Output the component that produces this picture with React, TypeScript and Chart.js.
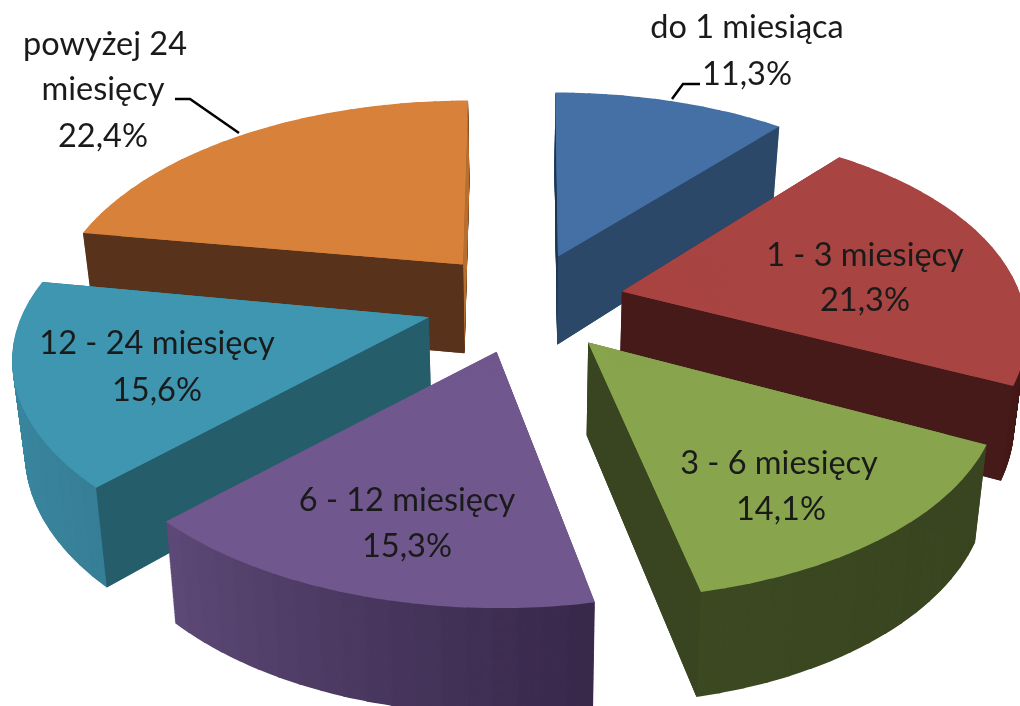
import React, { useEffect, useRef } from "react";
import { Chart, registerables } from "chart.js";

Chart.register(...registerables);

// ---- data -------------------------------------------------------------
const categories = [
  "do 1 miesiąca",
  "1 - 3 miesięcy",
  "3 - 6 miesięcy",
  "6 - 12 miesięcy",
  "12 - 24 miesięcy",
  "powyżej 24 miesięcy",
];
const shares = [11.3, 21.3, 14.1, 15.3, 15.6, 22.4];

// ---- styles -----------------------------------------------------------
const topColors = ["#4470a5", "#a84442", "#88a44d", "#70578d", "#3f96b0", "#d8813a"];
const wallFrom = ["#2b4868", "#451a18", "#394420", "#38284a", "#367f97", "#58321a"];
const wallTo = ["#2b4868", "#451a18", "#3c4a22", "#5e4a78", "#3f8fa9", "#58321a"];
const faceStart = ["#1d3550", "#451a18", "#394420", null, "#265d6b", "#58321a"];
const faceEnd = ["#2b4868", "#451a18", "#394420", null, "#265d6b", "#b86e2e"];
// per-slice small corrections of the projected rim
const sliceSkew = [0.45, 0, 0.45, 0.45, 0, 0.45];
const sliceRot = [0, -0.02, 0, 0.012, 0.01, 0];
const sliceXScale = [1, 0.985, 1, 1, 1.015, 1];
const labelLines = [
  ["do 1 miesiąca", "11,3%"],
  ["1 - 3 miesięcy", "21,3%"],
  ["3 - 6 miesięcy", "14,1%"],
  ["6 - 12 miesięcy", "15,3%"],
  ["12 - 24 miesięcy", "15,6%"],
  ["powyżej 24", "miesięcy", "22,4%"],
];
const labelCenters = [
  [[747, 28], [747, 75]],
  [[865, 256], [865, 301]],
  [[779, 464], [781, 510]],
  [[407, 501], [407, 547]],
  [[157, 344], [157, 391]],
  [[105, 45], [103, 90], [103, 137]],
];
const leaderLines = [
  [[672, 99], [683, 84], [700, 84]],
  [[175, 99], [190, 99], [239, 133]],
];
const FONT = '32.5px Lato, "Open Sans", sans-serif';

// ---- camera: a tilted plane seen in perspective ------------------------
const CX = 525;
const CY = 301;
const A = 400;
const B = 200;
const K = 0.22;

type Pt = { x: number; y: number };

const persp = (u: number, z: number) => {
  const w = 1 / (1 - K * z);
  return { x: A * u * w, y: B * z * w, w };
};
const lower = (p: Pt, t: number): Pt => ({
  x: p.x - (p.x - CX) * 0.025 * t,
  y: p.y + (75.5 + 0.05 * p.y) * t,
});
const apexOf = (offsetShare: number, mid: number): Pt => {
  const p = persp(offsetShare * Math.cos(mid), offsetShare * Math.sin(mid));
  return { x: CX + p.x, y: CY + p.y };
};
const rimOf = (apex: Pt, angle: number, i: number): Pt => {
  const q = persp(Math.cos(angle), Math.sin(angle));
  const dx = q.x + (apex.x - CX) * (q.w - 1) * sliceSkew[i];
  const dy = q.y;
  const r = sliceRot[i];
  return {
    x: apex.x + (dx - dy * r) * sliceXScale[i],
    y: apex.y + dx * r + dy,
  };
};

const hexRgb = (h: string) => [1, 3, 5].map((i) => parseInt(h.slice(i, i + 2), 16));
const mix = (a: string, b: string, t: number) => {
  const ca = hexRgb(a);
  const cb = hexRgb(b);
  return `rgb(${ca.map((v, i) => Math.round(v + (cb[i] - v) * t)).join(",")})`;
};

function drawWedge(
  ctx: CanvasRenderingContext2D,
  el: any,
  i: number,
  a0: number,
  a1: number,
  color: string,
  t: number,
  apex: Pt,
  radiusShare = 1,
) {
  const R = el.$radius;
  const s0 = lower(apex, t);
  const s1 = lower(rimOf(apex, a0, i), t);
  const s2 = lower(rimOf(apex, a1, i), t);
  const v1x = s1.x - s0.x;
  const v1y = s1.y - s0.y;
  const v2x = s2.x - s0.x;
  const v2y = s2.y - s0.y;
  const l1x = R * Math.cos(a0);
  const l1y = R * Math.sin(a0);
  const l2x = R * Math.cos(a1);
  const l2y = R * Math.sin(a1);
  const det = l1x * l2y - l2x * l1y;
  const m11 = (v1x * l2y - v2x * l1y) / det;
  const m12 = (-v1x * l2x + v2x * l1x) / det;
  const m21 = (v1y * l2y - v2y * l1y) / det;
  const m22 = (-v1y * l2x + v2y * l1x) / det;
  ctx.setTransform(m11, m21, m12, m22, s0.x - (m11 * el.x + m12 * el.y), s0.y - (m21 * el.x + m22 * el.y));
  el.startAngle = a0;
  el.endAngle = a1;
  el.circumference = a1 - a0;
  el.outerRadius = R * radiusShare;
  el.options = Object.create(el.$base, {
    backgroundColor: { value: color },
    offset: { value: 0 },
  });
  el.draw(ctx);
  el.outerRadius = R;
}

const tiltedPie = {
  id: "tiltedPie",
  beforeDatasetDraw(chart: any) {
    const ctx: CanvasRenderingContext2D = chart.ctx;
    const arcs: any[] = chart.getDatasetMeta(0).data;
    const order = arcs
      .map((el, i) => ({ el, i, z: Math.sin((el.startAngle + el.endAngle) / 2) }))
      .sort((p, q) => p.z - q.z);
    const STEP = (3 * Math.PI) / 180;
    const OVERLAP = 0.006;
    ctx.save();
    for (const { el, i } of order) {
      const start = el.startAngle;
      const end = el.endAngle;
      const circ = el.circumference;
      const opts = el.options;
      el.$base = opts;
      el.$radius = el.outerRadius;
      const mid = (start + end) / 2;
      const apex = apexOf(opts.offset / 4 / el.outerRadius, mid);
      const n = Math.ceil((end - start) / STEP);
      const span = (end - start) / n;

      // outer wall: layers of the slice from the lower plane upward
      const LAYERS = 110;
      for (let l = LAYERS; l >= 1; l--) {
        const t = l / LAYERS;
        for (let s = 0; s < n; s++) {
          const a0 = start + s * span;
          const a1 = s === n - 1 ? end : a0 + span + OVERLAP;
          drawWedge(ctx, el, i, a0, a1, mix(wallFrom[i], wallTo[i], (s + 0.5) / n), t, apex);
        }
      }

      // the two cut faces
      ctx.setTransform(1, 0, 0, 1, 0, 0);
      const faces = [
        { a: start, color: faceStart[i] },
        { a: end, color: faceEnd[i] },
      ].sort((p, q) => Math.sin(p.a) - Math.sin(q.a));
      for (const f of faces) {
        if (!f.color) continue;
        const rim = rimOf(apex, f.a, i);
        const lowApex = lower(apex, 1);
        const lowRim = lower(rim, 1);
        ctx.fillStyle = f.color;
        ctx.beginPath();
        ctx.moveTo(apex.x, apex.y);
        ctx.lineTo(rim.x, rim.y);
        ctx.lineTo(lowRim.x, lowRim.y);
        ctx.lineTo(lowApex.x, lowApex.y);
        ctx.closePath();
        ctx.fill();
      }

      // top face: an underlay that closes the seams, then the fine wedges
      drawWedge(ctx, el, i, start, end, topColors[i], 0, apex, 0.9);
      for (let s = 0; s < n; s++) {
        const a0 = start + s * span;
        const a1 = s === n - 1 ? end : a0 + span + OVERLAP;
        drawWedge(ctx, el, i, a0, a1, topColors[i], 0, apex);
      }

      el.startAngle = start;
      el.endAngle = end;
      el.circumference = circ;
      el.options = opts;
      ctx.setTransform(1, 0, 0, 1, 0, 0);
    }
    ctx.restore();
    return false;
  },
  afterDraw(chart: any) {
    const ctx: CanvasRenderingContext2D = chart.ctx;
    ctx.save();
    ctx.strokeStyle = "#000000";
    ctx.lineWidth = 2.5;
    for (const line of leaderLines) {
      ctx.beginPath();
      line.forEach(([x, y], i) => (i ? ctx.lineTo(x, y) : ctx.moveTo(x, y)));
      ctx.stroke();
    }
    ctx.fillStyle = "#1a1a1a";
    ctx.font = FONT;
    ctx.textAlign = "center";
    ctx.textBaseline = "middle";
    labelLines.forEach((lines, i) => {
      lines.forEach((text, j) => {
        const [x, y] = labelCenters[i][j];
        ctx.fillText(text, x, y);
      });
    });
    ctx.restore();
  },
};

export default function App() {
  const ref = useRef<HTMLCanvasElement>(null);
  useEffect(() => {
    document.body.style.margin = "0";
    document.body.style.background = "#ffffff";
    const chart = new Chart(ref.current!, {
      type: "pie",
      data: {
        labels: categories,
        datasets: [
          {
            data: shares,
            backgroundColor: topColors,
            borderWidth: 0,
            offset: 235,
          },
        ],
      },
      options: {
        responsive: false,
        animation: false,
        layout: { padding: 0 },
        plugins: { legend: { display: false }, tooltip: { enabled: false } },
      },
      plugins: [tiltedPie],
    } as any);
    return () => chart.destroy();
  }, []);
  return <canvas ref={ref} width={1020} height={706} style={{ display: "block", filter: "blur(0.5px)" }} />;
}
